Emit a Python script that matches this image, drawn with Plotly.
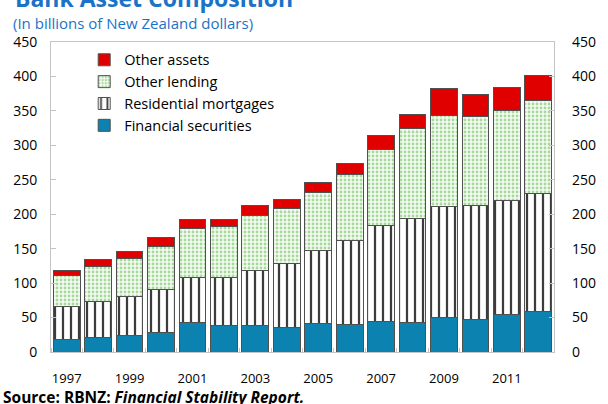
import plotly.graph_objects as go

years = list(range(1997, 2013))
financial_securities = [18.5, 21.4, 23.8, 28.2, 42.7, 37.8, 38.4, 35.9, 41.3, 39.8, 44.2, 42.7, 49.4, 47.1, 54.4, 59.2]
residential_mortgages = [47.5, 51.8, 56.7, 62.5, 65.4, 70.3, 79.9, 92.6, 106.1, 122.1, 140.0, 151.2, 162.4, 166.1, 165.7, 171.0]
other_lending = [44.5, 50.9, 54.7, 62.9, 71.3, 73.6, 80.0, 79.3, 83.7, 95.9, 110.0, 130.2, 131.8, 129.0, 130.8, 134.6]
other_assets = [7.8, 10.6, 10.7, 12.7, 13.5, 11.2, 14.5, 13.7, 15.1, 16.0, 20.3, 20.4, 39.2, 30.9, 33.4, 36.4]
year_ticks = [1997, 1999, 2001, 2003, 2005, 2007, 2009, 2011]
y_ticks = [0, 50, 100, 150, 200, 250, 300, 350, 400, 450]

FONT = "Open Sans"
BLUE_T = "#1a73c8"
OUTLINE = dict(color="#505050", width=1)

fig = go.Figure()
fig.add_trace(go.Bar(x=years, y=financial_securities, name="Financial securities",
                     marker=dict(color="#0b82b0", line=OUTLINE)))
fig.add_trace(go.Bar(x=years, y=residential_mortgages, name="Residential mortgages",
                     marker=dict(color="white", line=OUTLINE,
                                 pattern=dict(shape="|", fgcolor="#3c3c3c", bgcolor="white",
                                              size=8, solidity=0.28, fillmode="replace"))))
fig.add_trace(go.Bar(x=years, y=other_lending, name="Other lending",
                     marker=dict(color="#f5fbf3", line=OUTLINE,
                                 pattern=dict(shape=".", fgcolor="#a8d89c", bgcolor="#f5fbf3",
                                              size=4, solidity=0.4, fillmode="replace"))))
fig.add_trace(go.Bar(x=years, y=other_assets, name="Other assets",
                     marker=dict(color="#e00000", line=OUTLINE)))
# invisible trace for right axis
fig.add_trace(go.Scatter(x=[years[0]], y=[0], yaxis="y2", mode="markers",
                         marker=dict(opacity=0), showlegend=False, hoverinfo="skip"))

fig.update_layout(
    width=608, height=404,
    margin=dict(l=51, r=43, t=42, b=52),
    barmode="stack", bargap=0.15,
    plot_bgcolor="white", paper_bgcolor="white",
    font=dict(family=FONT, size=14, color="#000000"),
    showlegend=True,
    legend=dict(x=0.066, y=0.994, xanchor="left", yanchor="top",
                traceorder="reversed", bgcolor="rgba(0,0,0,0)",
                font=dict(family=FONT, size=14.5, color="#000"),
                tracegroupgap=0, itemwidth=30),
    xaxis=dict(range=[1996.5, 2012.5], tickmode="array", tickvals=year_ticks,
               ticks="", showgrid=False, zeroline=False,
               showline=True, linecolor="#c4c4c4", linewidth=1, mirror=True,
               tickfont=dict(size=13), ticklabelstandoff=14,
               minor=dict(tickmode="linear", tick0=1996.5, dtick=1, ticks="inside",
                          ticklen=4, tickcolor="#c4c4c4", showgrid=False)),
    yaxis=dict(range=[0, 450], tickmode="array", tickvals=y_ticks,
               ticks="inside", ticklen=5, tickcolor="#c4c4c4",
               showgrid=False, zeroline=False,
               showline=True, linecolor="#c4c4c4", linewidth=1, mirror=True,
               tickfont=dict(size=14), ticklabelstandoff=10),
    yaxis2=dict(range=[0, 450], tickmode="array", tickvals=y_ticks, overlaying="y",
                side="right", ticks="inside", ticklen=5, tickcolor="#c4c4c4",
                showgrid=False, zeroline=False, showline=False,
                tickfont=dict(size=14), ticklabelstandoff=17),
    annotations=[
        dict(text="<b>Bank Asset Composition</b>", xref="paper", yref="paper",
             x=-0.076, y=1.142, xanchor="left", yanchor="middle", showarrow=False,
             font=dict(family=FONT, size=23, color=BLUE_T)),
        dict(text="(In billions of New Zealand dollars)", xref="paper", yref="paper",
             x=-0.079, y=1.062, xanchor="left", yanchor="middle", showarrow=False,
             font=dict(family=FONT, size=15, color=BLUE_T)),
        dict(text="<b>Source: RBNZ: <i>Financial Stability Report.</i></b>", xref="paper", yref="paper",
             x=-0.099, y=-0.146, xanchor="left", yanchor="middle", showarrow=False,
             font=dict(family=FONT, size=15.5, color="#000")),
    ],
)

fig.write_html("out.html", post_script="document.body.style.margin='0px';",
               config={"displayModeBar": False})
